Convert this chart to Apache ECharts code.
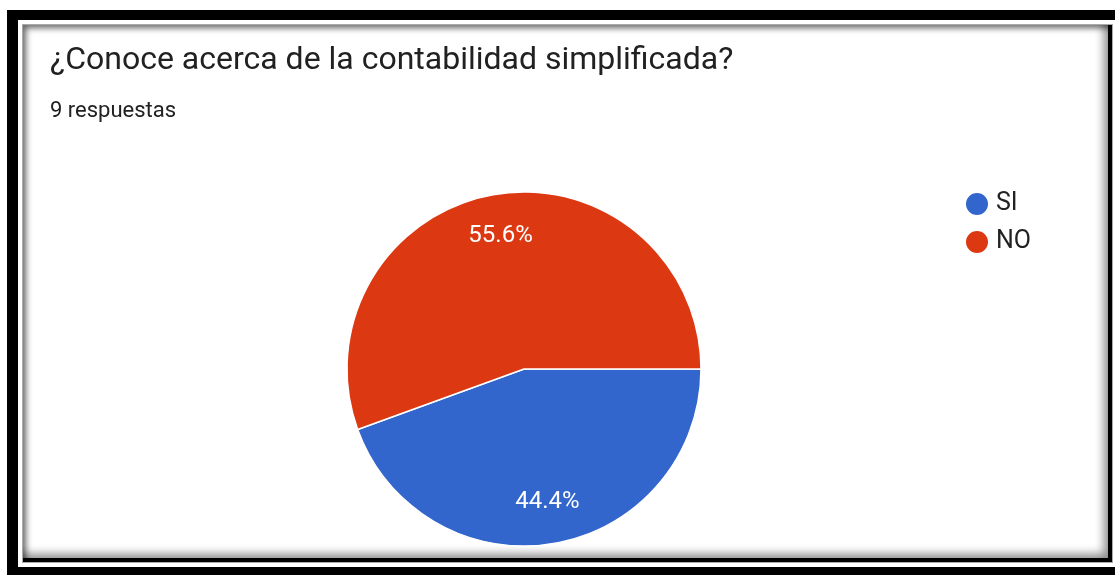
<!DOCTYPE html>
<html>
<head>
<meta charset="utf-8">
<script src="https://cdn.jsdelivr.net/npm/echarts@6/dist/echarts.min.js"></script>
<style>
html,body{margin:0;padding:0;background:#fff;width:1115px;height:575px;overflow:hidden;}
#outer{position:absolute;left:7px;top:10px;width:1108px;height:565px;background:#000;}
#gap{position:absolute;left:18px;top:20px;width:1097px;height:547px;background:#fff;}
#inner{position:absolute;left:22px;top:24px;width:1091px;height:539px;background:#fff;border:1px solid #aaa;box-sizing:border-box;
box-shadow: inset 3px 3px 6px rgba(0,0,0,0.6), inset -4px -4px 0 #000, inset -8px -8px 10px rgba(0,0,0,0.45);}
#chart{position:absolute;left:0;top:0;width:1115px;height:575px;}
</style>
</head>
<body>
<div id="outer"></div>
<div id="gap"></div>
<div id="inner"></div>
<div id="chart"></div>
<script>
var categories = ['SI', 'NO'];
var counts = [4, 5];
var colors = ['#3366cc', '#dc3912'];
var titleText = '¿Conoce acerca de la contabilidad simplificada?';
var subtitleText = '9 respuestas';

var data = categories.map(function (c, i) {
  return { name: c, value: counts[i], itemStyle: { color: colors[i] } };
});
var total = counts.reduce(function (a, b) { return a + b; }, 0);

var chart = echarts.init(document.getElementById('chart'), null, { renderer: 'canvas' });
chart.setOption({
  backgroundColor: 'transparent',
  animation: false,
  title: {
    text: titleText,
    subtext: subtitleText,
    left: 45,
    top: 40,
    itemGap: 23,
    textStyle: { fontFamily: 'Roboto', fontSize: 32, fontWeight: 'normal', color: '#212121' },
    subtextStyle: { fontFamily: 'Roboto', fontSize: 22, color: '#212121' }
  },
  legend: {
    orient: 'vertical',
    left: 959,
    top: 186,
    icon: 'circle',
    itemWidth: 24,
    itemHeight: 24,
    itemGap: 12,
    data: categories,
    textStyle: { fontFamily: 'Roboto', fontSize: 25, color: '#222', padding: [0, 0, 0, 2] }
  },
  series: [
    {
      type: 'pie',
      center: [524, 369],
      radius: [0, 177],
      startAngle: 0,
      clockwise: true,
      data: data,
      label: { show: false },
      labelLine: { show: false },
      itemStyle: { borderColor: '#fff', borderWidth: 1.5 },
      emphasis: { disabled: true }
    },
    {
      type: 'pie',
      center: [524, 369],
      radius: [87, 177],
      startAngle: 0,
      clockwise: true,
      silent: true,
      data: data.map(function (d) { return { name: d.name, value: d.value, itemStyle: { color: 'rgba(0,0,0,0)' } }; }),
      label: {
        show: true,
        position: 'inside',
        color: '#fff',
        fontFamily: 'Roboto',
        fontSize: 24,
        formatter: function (p) { return (p.value / total * 100).toFixed(1) + '%'; }
      },
      labelLine: { show: false },
      emphasis: { disabled: true }
    }
  ]
});
</script>
</body>
</html>
